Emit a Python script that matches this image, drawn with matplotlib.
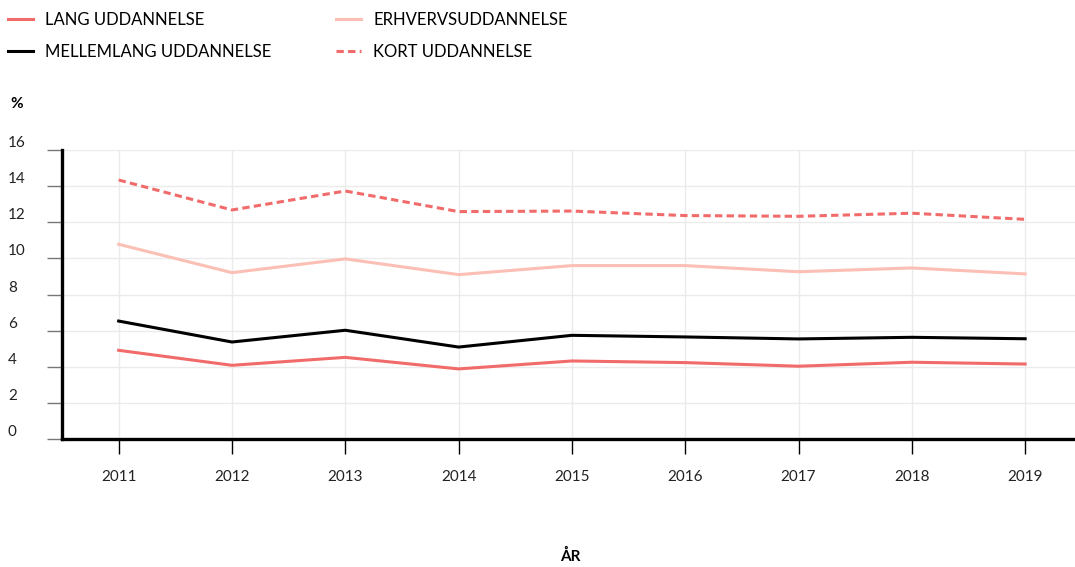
import numpy as np
import matplotlib.pyplot as plt

plt.rcParams['font.family'] = ['Lato', 'DejaVu Sans']

# data (procent)
years = [2011, 2012, 2013, 2014, 2015, 2016, 2017, 2018, 2019]
lang = [4.91, 4.08, 4.52, 3.88, 4.32, 4.23, 4.03, 4.25, 4.15]
mellemlang = [6.53, 5.37, 6.02, 5.09, 5.74, 5.65, 5.54, 5.63, 5.55]
erhverv = [10.78, 9.21, 9.97, 9.10, 9.60, 9.60, 9.26, 9.47, 9.14]
kort = [14.34, 12.68, 13.73, 12.59, 12.62, 12.37, 12.33, 12.50, 12.16]
y_ticks = [0, 2, 4, 6, 8, 10, 12, 14, 16]

red = '#f26b6b'
pink = '#fcbfb5'

fig = plt.figure(figsize=(10.75, 5.67), dpi=100)
ax = fig.add_axes([62/1075, 1-439/567, 1-62/1075, (439-150)/567])

lw = 2.2
ax.plot(years, lang, color=red, lw=lw, label='LANG UDDANNELSE')
ax.plot(years, mellemlang, color='black', lw=lw, label='MELLEMLANG UDDANNELSE')
ax.plot(years, erhverv, color=pink, lw=lw, label='ERHVERVSUDDANNELSE')
ax.plot(years, kort, color=red, lw=lw, dashes=(2.4, 1.4), label='KORT UDDANNELSE')

ax.set_xlim(2010.5, 2019.44)
ax.set_ylim(0, 16)
ax.set_xticks(years)
ax.set_xticklabels([str(y) for y in years])
ax.set_yticks(y_ticks)
ax.set_yticklabels([str(v) for v in y_ticks])

ax.grid(True, color='#ebebeb', lw=1)
ax.set_axisbelow(True)

for s in ['top', 'right']:
    ax.spines[s].set_visible(False)
ax.spines['left'].set_linewidth(2.4)
ax.spines['bottom'].set_linewidth(2.4)

# y-labels venstrestillet ude i kanten
ax.tick_params(axis='y', length=11, width=1, color='#777777', pad=28, labelsize=11, labelcolor='#222222')
for lab in ax.get_yticklabels():
    lab.set_horizontalalignment('left')
    lab.set_verticalalignment('bottom')
ax.tick_params(axis='x', length=11, width=1, color='black', pad=11, labelsize=11, labelcolor='#222222')

fig.text(570/1075, 1-556/567, 'ÅR', ha='center', va='center', fontsize=11, fontweight='bold')
fig.text(10/1075, 1-104/567, '%', ha='left', va='center', fontsize=11, fontweight='bold')

ax.legend(loc='upper left', bbox_to_anchor=(8/1075, 1-12/567), bbox_transform=fig.transFigure,
          ncol=2, frameon=False, fontsize=12, handlelength=1.5, handletextpad=0.72,
          columnspacing=3.9, labelspacing=0.95, borderaxespad=0, borderpad=0)

fig.savefig('out.png', dpi=100)
